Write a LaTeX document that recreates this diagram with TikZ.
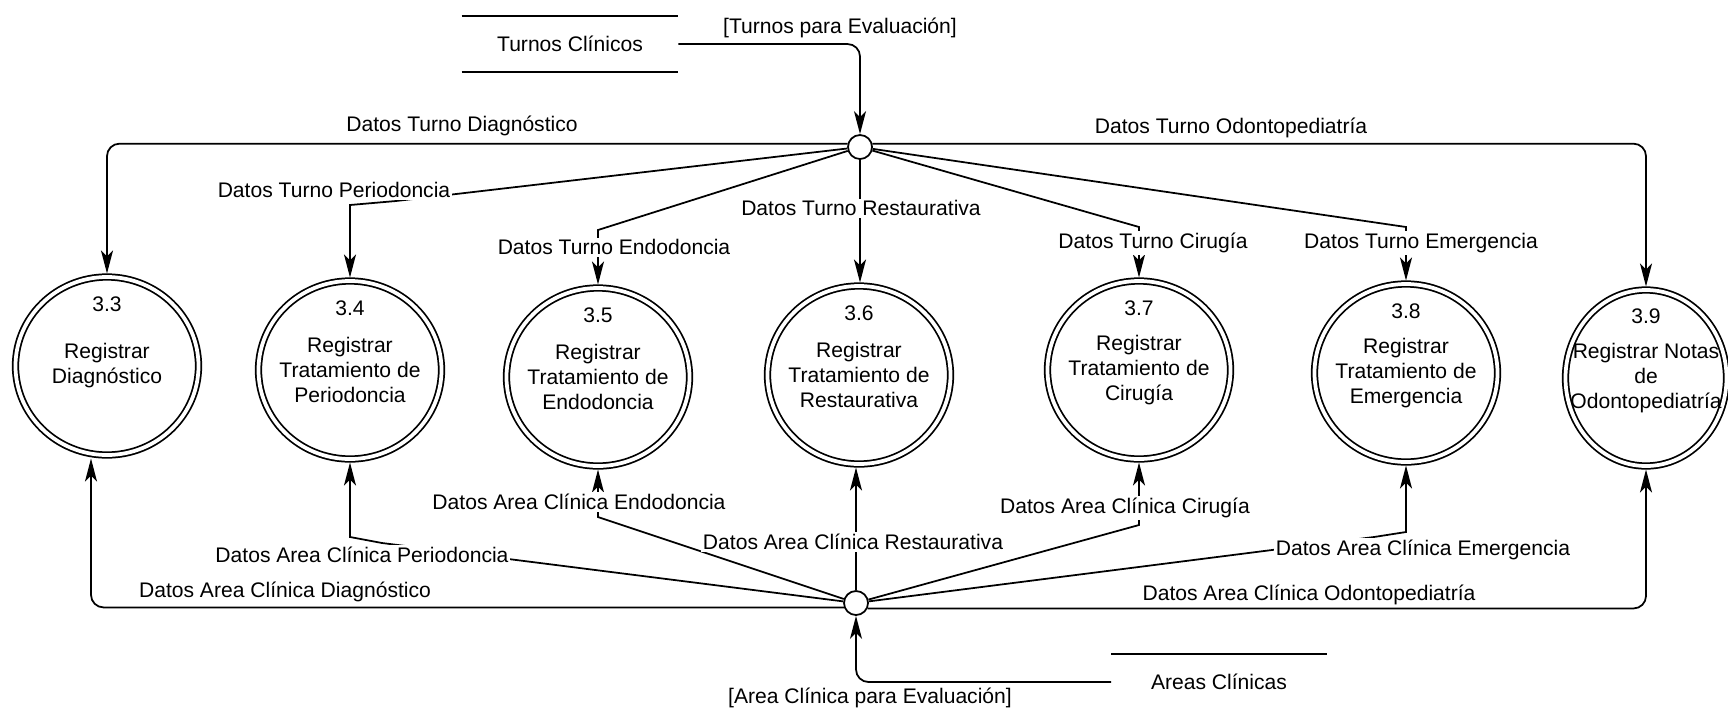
\documentclass[tikz,border=0pt]{standalone}
\usepackage{fontspec}
\setmainfont{Liberation Sans}
\usetikzlibrary{arrows.meta,shapes.geometric}
\begin{document}
\begin{tikzpicture}[x=0.2mm,y=-0.2mm,
  font=\fontsize{12}{14.2}\selectfont,
  proc/.style={ellipse,draw,line width=1pt,double,double distance=0.75mm,
    minimum width=36.6mm,minimum height=35.6mm,inner sep=0pt,outer sep=0.7mm},
  pnum/.style={inner sep=0pt},
  ptext/.style={align=center,inner sep=0pt},
  junc/.style={circle,draw,fill=white,line width=1pt,minimum size=4.8mm,inner sep=0pt},
  store/.style={minimum width=43.2mm,minimum height=11.2mm,inner sep=0pt},
  flow/.style={line width=1pt,-{Stealth[length=4.6mm,width=2.4mm,inset=1.2mm]}},
  lbl/.style={inner sep=1pt},
  lblw/.style={lbl,fill=white}]
\useasboundingbox (0,0) rectangle (1728,709);
\node[store] (tc) at (570,44) {Turnos Clínicos};
\draw[line width=1.2pt] (tc.north west) -- (tc.north east);
\draw[line width=1.2pt] (tc.south west) -- (tc.south east);
\node[store,minimum width=43mm] (ac) at (1219,682) {Areas Clínicas};
\draw[line width=1.2pt] (ac.north west) -- (ac.north east);
\node[junc] (jt) at (860,147) {};
\node[junc] (jb) at (856,603) {};
\node[proc] (p33) at (107,366) {};
\node[pnum] (p33n) at ([yshift=12.4mm]p33.center) {3.3};
\node[ptext] (p33t) at (p33) {Registrar\\Diagnóstico};
\node[proc] (p34) at (350,370) {};
\node[pnum] (p34n) at ([yshift=12.4mm]p34.center) {3.4};
\node[ptext] (p34t) at (p34) {Registrar\\Tratamiento de\\Periodoncia};
\node[proc] (p35) at (598,377) {};
\node[pnum] (p35n) at ([yshift=12.4mm]p35.center) {3.5};
\node[ptext] (p35t) at (p35) {Registrar\\Tratamiento de\\Endodoncia};
\node[proc] (p36) at (859,375) {};
\node[pnum] (p36n) at ([yshift=12.4mm]p36.center) {3.6};
\node[ptext] (p36t) at (p36) {Registrar\\Tratamiento de\\Restaurativa};
\node[proc] (p37) at (1139,370) {};
\node[pnum] (p37n) at ([yshift=12.4mm]p37.center) {3.7};
\node[ptext] (p37t) at (p37) {Registrar\\Tratamiento de\\Cirugía};
\node[proc] (p38) at (1406,373) {};
\node[pnum] (p38n) at ([yshift=12.4mm]p38.center) {3.8};
\node[ptext] (p38t) at (p38) {Registrar\\Tratamiento de\\Emergencia};
\node[proc,minimum width=32.2mm,minimum height=35.2mm] (p39) at (1646,378) {};
\node[pnum] (p39n) at ([yshift=12.4mm]p39.center) {3.9};
\node[ptext] (p39t) at (p39) {Registrar Notas\\de\\Odontopediatría};
% flujos de entrada
\draw[flow,rounded corners=2.5mm] (tc.east) -| (jt);
\draw[flow,rounded corners=2.5mm] (ac.west) -| (jb);
% turnos
\draw[flow,rounded corners=2.5mm] (jt.165) -| (p33);
\draw[flow] (jt) -- (396,201) -- (350,205) -- (p34);
\draw[flow] (jt) -- (598,230) -- (p35);
\draw[flow] (jt) -- (jt |- p36.north);
\draw[flow] (jt) -- (1139,227) -- (p37);
\draw[flow] (jt) -- (1406,227) -- (p38);
\draw[flow,rounded corners=2.5mm] (jt.15) -| (p39);
% areas clinicas
\draw[flow,rounded corners=2.5mm] (jb.200) -| ([xshift=-3.2mm]p33.south);
\draw[flow] (jb) -- (382,543) -- (350,537) -- (p34);
\draw[flow] (jb) -- (598,517) -- (p35);
\draw[flow] (jb) -- (jb |- p36.south);
\draw[flow] (jb) -- (1139,525) -- (p37);
\draw[flow] (jb) -- (1374,537) -- (1406,532) -- (p38);
\draw[flow,rounded corners=2.5mm] (jb.-25) -| (p39);
\node[lbl] (ltc) at (840,28) {[Turnos para Evaluación]};
\node[lbl] (l33) at (462,126) {Datos Turno Diagnóstico};
\node[lblw] (l34) at (334,190) {Datos Turno Periodoncia};
\node[lblw] (l35) at (614,247) {Datos Turno Endodoncia};
\node[lblw] (l36) at (861,208) {Datos Turno Restaurativa};
\node[lblw] (l37) at (1153,243) {Datos Turno Cirugía};
\node[lblw] (l38) at (1421,243) {Datos Turno Emergencia};
\node[lbl] (l39) at (1231,128) {Datos Turno Odontopediatría};
\node[lbl] (m33) at (285,592) {Datos Area Clínica Diagnóstico};
\node[lblw] (m34) at (362,555) {Datos Area Clínica Periodoncia};
\node[lblw] (m35) at (579,502) {Datos Area Clínica Endodoncia};
\node[lblw] (m36) at (853,542) {Datos Area Clínica Restaurativa};
\node[lblw] (m37) at (1125,508) {Datos Area Clínica Cirugía};
\node[lblw] (m38) at (1423,550) {Datos Area Clínica Emergencia};
\node[lbl] (m39) at (1309,595) {Datos Area Clínica Odontopediatría};
\node[lbl] (lac) at (870,698) {[Area Clínica para Evaluación]};
\end{tikzpicture}
\end{document}
